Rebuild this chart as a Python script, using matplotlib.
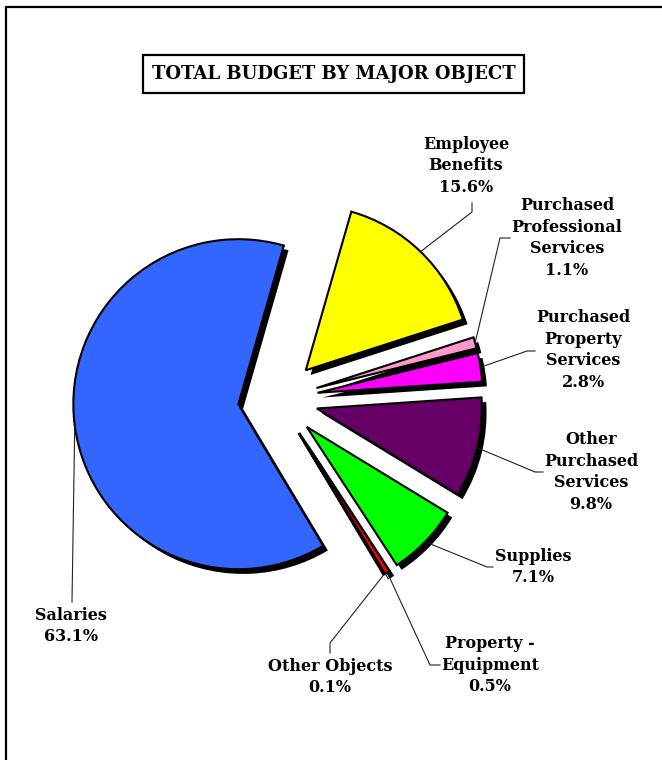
import numpy as np
import matplotlib
matplotlib.use("Agg")
import matplotlib.pyplot as plt
from matplotlib import patheffects
from matplotlib.patches import Rectangle

# ---- data ----
categories = ["Employee\nBenefits", "Purchased\nProfessional\nServices", "Purchased\nProperty\nServices",
              "Other\nPurchased\nServices", "Supplies", "Property -\nEquipment", "Other Objects", "Salaries"]
percent = [15.6, 1.1, 2.8, 9.8, 7.1, 0.5, 0.1, 63.1]
colors = ["#FFFF00", "#FF99CC", "#FF00FF", "#660066", "#00FF00", "#FF0000", "#333333", "#3366FF"]
title = "TOTAL BUDGET BY MAJOR OBJECT"

W, H = 662, 760
fig = plt.figure(figsize=(W / 100, H / 100), dpi=100)
ax = fig.add_axes([0, 0, 1, 1])

def py(y):
    return H - y

center = (278, py(399))
radius = 165
explode_amt = 40
startangle = 74

wedges, _ = ax.pie(percent, colors=colors, startangle=startangle, counterclock=False,
                   radius=radius, center=center, explode=[explode_amt] * len(percent),
                   wedgeprops=dict(edgecolor="black", linewidth=1.5))
for w in wedges:
    w.set_path_effects([patheffects.SimplePatchShadow(offset=(3.4, -3.4), shadow_rgbFace="black", alpha=1.0),
                        patheffects.Normal()])

ax.set_xlim(0, W)
ax.set_ylim(0, H)
ax.set_aspect("auto")
ax.axis("off")

font = dict(family="DejaVu Serif", fontweight="bold", fontsize=11.5)

# label layout (pixel positions): elbow, line end, text centre
layout = [
    ((472, 212), (472, 203), (466, 166)),
    ((500, 238), (510, 238), (567, 238)),
    ((527, 351), (535, 351), (583, 350)),
    ((535, 472), (543, 472), (591, 472)),
    ((487, 567), (493, 567), (533, 567)),
    ((430, 665), (440, 665), (490, 665)),
    ((330, 643), (330, 653), (330, 677)),
    ((72, 602), (72, 602), (71, 626)),
]

for w, cat, pct, (elb, end, txt) in zip(wedges, categories, percent, layout):
    th = np.deg2rad(0.5 * (w.theta1 + w.theta2))
    cx, cy = w.center
    ax_, ay_ = cx + radius * np.cos(th), cy + radius * np.sin(th)
    ax.plot([ax_, elb[0], end[0]], [ay_, py(elb[1]), py(end[1])], color="#222222", lw=0.8)
    ax.text(txt[0], py(txt[1]), f"{cat}\n{pct:.1f}%", ha="center", va="center",
            linespacing=1.36, **font)

# title box
ax.add_patch(Rectangle((143, py(93)), 381, 38, fill=False, edgecolor="black", lw=1.6))
ax.text(333.5, py(74), title, ha="center", va="center", family="DejaVu Serif",
        fontweight="bold", fontsize=13)

# outer border (left and top)
ax.plot([6, 6, W], [0, py(7), py(7)], color="black", lw=1.6, solid_joinstyle="miter")

fig.savefig("out.png", dpi=100)
